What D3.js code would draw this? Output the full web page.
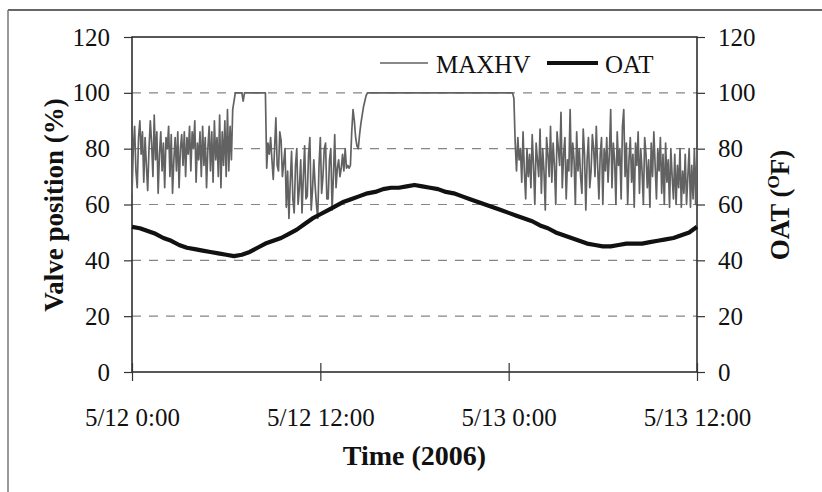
<!DOCTYPE html>
<html>
<head>
<meta charset="utf-8">
<script src="https://cdn.jsdelivr.net/npm/d3@7"></script>
<style>
  body { margin: 0; background: #fff; }
  svg text { font-family: "Liberation Serif", "Times New Roman", serif; fill: #111; }
</style>
</head>
<body>
<div id="chart"></div>
<script>
let chart_width = 822;
let chart_height = 492;

// MAXHV valve position (%), one reading every 5 minutes from 5/12 0:00
let maxhv = [
  64, 80, 88, 72, 66, 84, 90, 78, 86, 68, 84, 74, 65, 80, 90, 82, 70, 92, 76, 86,
  64, 78, 86, 72, 82, 66, 84, 80, 88, 70, 85, 64, 76, 84, 72, 86, 66, 80, 85, 74,
  86, 70, 84, 78, 88, 72, 86, 80, 90, 68, 82, 76, 86, 70, 88, 74, 84, 66, 80, 88,
  72, 86, 68, 90, 76, 84, 70, 92, 66, 86, 74, 90, 70, 94, 72, 88, 76, 94,
  97, 100, 100, 100, 100, 100, 100, 97,
  100, 100, 100, 100, 100, 100, 100, 100, 100, 100, 100, 100, 100, 100, 100, 100, 100,
  73,
  82, 78, 84, 76, 69, 80, 91, 74, 72, 86, 83, 70, 75, 80, 59, 72, 55, 68, 79, 62,
  57, 74, 80, 60, 66, 76, 57, 70, 81, 62, 63, 78, 84, 58, 65, 76, 67, 60, 55, 74,
  84, 64, 70, 80, 82, 62, 62, 76, 80, 58, 70, 85, 66, 73, 76, 70, 73, 78, 72, 80,
  73, 74, 73,
  74, 86, 94, 90, 84, 81, 80, 85, 89, 92, 95, 97, 99, 100, 100,
  100, 100, 100, 100, 100, 100, 100, 100, 100, 100, 100, 100, 100, 100, 100, 100, 100, 100, 100, 100,
  100, 100, 100, 100, 100, 100, 100, 100, 100, 100, 100, 100, 100, 100, 100, 100, 100, 100, 100, 100,
  100, 100, 100, 100, 100, 100, 100, 100, 100, 100, 100, 100, 100, 100, 100, 100, 100, 100, 100, 100,
  100, 100, 100, 100, 100, 100, 100, 100, 100, 100, 100, 100, 100, 100, 100, 100, 100, 100, 100, 100,
  100, 100, 100, 100, 100, 100, 100, 100, 100, 100, 100, 100, 100, 100, 100, 100, 100, 100, 100, 100,
  100, 100, 100, 100, 100, 100, 100, 100, 100, 100,
  98, 82, 72,
  84, 76, 80, 68, 86, 72, 62, 80, 70, 78, 66, 85, 74, 60, 82, 76, 70, 87, 64, 80,
  72, 58, 84, 78, 70, 88, 68, 82, 74, 60, 86, 80, 74, 93, 66, 78, 84, 62, 76, 72,
  94, 70, 82, 76, 60, 86, 72, 80, 70, 64, 87, 78, 58, 76, 84, 66, 72, 85, 80, 70,
  88, 74, 62, 78, 84, 60, 80, 72, 84, 68, 78, 94, 66, 82, 76, 60, 86, 74, 80, 62,
  88, 94, 70, 82, 60, 76, 84, 68, 78, 59, 82, 74, 86, 64, 80, 72, 60, 84, 78, 66,
  76, 59, 82, 70, 86, 74, 62, 80, 72, 84, 64, 78, 60, 82, 68, 76, 59, 80, 70, 62,
  78, 60, 74, 66, 80, 59, 72, 64, 78, 60, 70, 80, 59, 74, 62, 80, 60, 80
];
let maxhv_step = 1/12; // hours

// OAT (F), one reading every 30 minutes from 5/12 0:00
let oat = [
  52, 51.5, 50.5, 49.5, 48, 47, 45.5, 44.5, 44, 43.5, 43, 42.5, 42, 41.5, 42, 43,
  44.5, 46, 47, 48, 49.5, 51, 53, 55, 56.5, 58, 59.5, 61, 62, 63, 64, 64.5,
  65.5, 66, 66, 66.5, 67, 66.5, 66, 65.5, 64.5, 64, 63, 62, 61, 60, 59, 58,
  57, 56, 55, 54, 52.5, 51.5, 50, 49, 48, 47, 46, 45.5, 45, 45, 45.5, 46,
  46, 46, 46.5, 47, 47.5, 48, 49, 50, 52
];
let oat_step = 0.5; // hours

let y_ticks = [0, 20, 40, 60, 80, 100, 120];
let grid_values = [20, 40, 60, 80, 100];
let x_ticks = [0, 12, 24, 36];
let x_labels = ['5/12 0:00', '5/12 12:00', '5/13 0:00', '5/13 12:00'];

let xScale = d3.scaleLinear().domain([0, 36]).range([132, 697]);
let yScale = d3.scaleLinear().domain([0, 120]).range([372, 37]);

let svg = d3.select('#chart')
    .append('svg')
    .attr('width', chart_width)
    .attr('height', chart_height);

// outer frame (top and left edges visible)
svg.append('line')
    .attr('x1', 8).attr('x2', chart_width).attr('y1', 10).attr('y2', 10)
    .attr('stroke', '#333').attr('stroke-width', 1.5);
svg.append('line')
    .attr('x1', 8).attr('x2', 8).attr('y1', 10).attr('y2', chart_height)
    .attr('stroke', '#777').attr('stroke-width', 1.5);

// dashed grid
svg.append('g')
    .selectAll('line')
    .data(grid_values)
    .enter()
    .append('line')
    .attr('x1', xScale(0))
    .attr('x2', xScale(36))
    .attr('y1', d => yScale(d))
    .attr('y2', d => yScale(d))
    .attr('stroke', '#858585')
    .attr('stroke-width', 1.2)
    .attr('stroke-dasharray', '9,8');

// plot box
svg.append('rect')
    .attr('x', xScale(0))
    .attr('y', yScale(120))
    .attr('width', xScale(36) - xScale(0))
    .attr('height', yScale(0) - yScale(120))
    .attr('fill', 'none')
    .attr('stroke', '#222')
    .attr('stroke-width', 1.5);

// axes
let leftAxis = svg.append('g')
    .attr('transform', 'translate(' + xScale(0) + ',0)')
    .call(d3.axisLeft(yScale).tickValues(y_ticks).tickSize(8).tickPadding(14));
let rightAxis = svg.append('g')
    .attr('transform', 'translate(' + xScale(36) + ',0)')
    .call(d3.axisRight(yScale).tickValues(y_ticks).tickSize(8).tickPadding(13));
let bottomAxis = svg.append('g')
    .attr('transform', 'translate(0,' + yScale(0) + ')')
    .call(d3.axisBottom(xScale).tickValues(x_ticks).tickSize(9).tickPadding(27)
        .tickFormat((d, i) => x_labels[i]));

[leftAxis, rightAxis, bottomAxis].forEach(function(a){
    a.select('.domain').remove();
    a.selectAll('.tick line').attr('stroke', '#333').attr('stroke-width', 1.2);
    a.selectAll('.tick text')
        .style('font-family', '"Liberation Serif", serif')
        .style('font-size', '25px')
        .attr('fill', '#111');
});
// x ticks cross the axis
bottomAxis.selectAll('.tick line').attr('y1', -9);

// MAXHV line
let hv_line = d3.line()
    .x((d, i) => xScale(i * maxhv_step))
    .y(d => yScale(d));

svg.append('path')
    .datum(maxhv)
    .attr('d', hv_line)
    .attr('fill', 'none')
    .attr('stroke', '#626262')
    .attr('stroke-width', 1.7)
    .attr('stroke-linejoin', 'round');

// OAT line
let oat_line = d3.line()
    .x((d, i) => xScale(i * oat_step))
    .y(d => yScale(d));

svg.append('path')
    .datum(oat)
    .attr('d', oat_line)
    .attr('fill', 'none')
    .attr('stroke', '#111')
    .attr('stroke-width', 4.2)
    .attr('stroke-linejoin', 'round');

// legend
let legend = svg.append('g').style('font-size', '25px');
legend.append('line')
    .attr('x1', 380).attr('x2', 428).attr('y1', 63).attr('y2', 63)
    .attr('stroke', '#626262').attr('stroke-width', 1.7);
legend.append('text').text('MAXHV').attr('x', 436).attr('y', 73);
legend.append('line')
    .attr('x1', 547).attr('x2', 598).attr('y1', 63).attr('y2', 63)
    .attr('stroke', '#111').attr('stroke-width', 4.2);
legend.append('text').text('OAT').attr('x', 605).attr('y', 73);

// axis titles
svg.append('text')
    .text('Valve position (%)')
    .attr('transform', 'translate(63,205) rotate(-90)')
    .attr('text-anchor', 'middle')
    .style('font-size', '27px')
    .style('font-weight', 'bold');

let oatTitle = svg.append('text')
    .attr('transform', 'translate(789,205) rotate(-90)')
    .attr('text-anchor', 'middle')
    .style('font-size', '27px')
    .style('font-weight', 'bold');
oatTitle.append('tspan').text('OAT (');
oatTitle.append('tspan').text('O').attr('dy', -10).style('font-size', '17px');
oatTitle.append('tspan').text('F)').attr('dy', 10);

svg.append('text')
    .text('Time (2006)')
    .attr('x', (xScale(0) + xScale(36)) / 2)
    .attr('y', 465)
    .attr('text-anchor', 'middle')
    .style('font-size', '28px')
    .style('font-weight', 'bold');
</script>
</body>
</html>
